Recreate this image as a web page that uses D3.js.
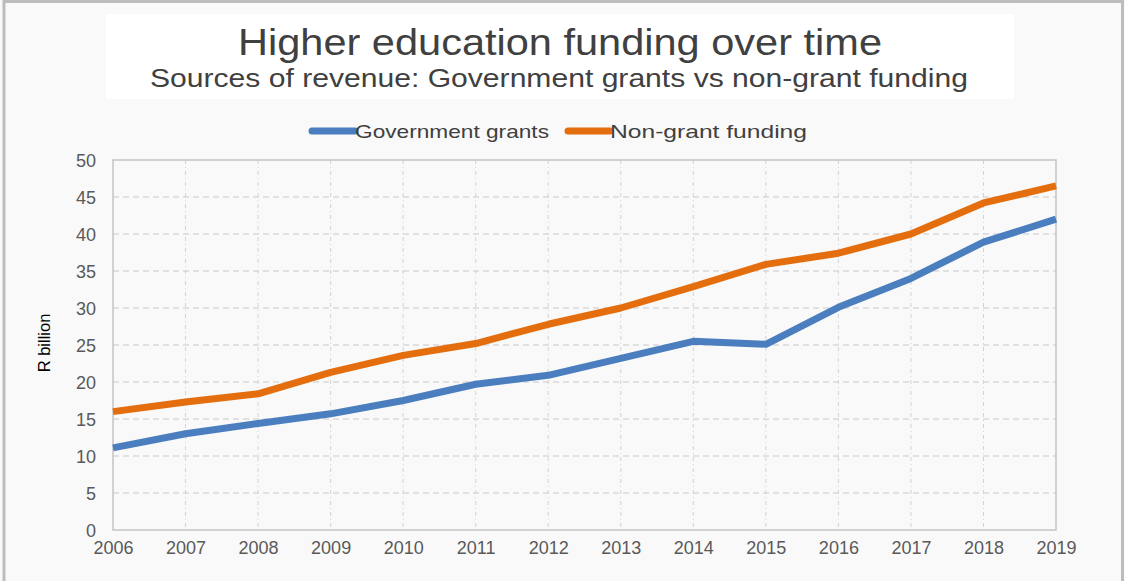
<!DOCTYPE html>
<html>
<head>
<meta charset="utf-8">
<script src="https://cdn.jsdelivr.net/npm/d3@7"></script>
<style>
  html, body { margin: 0; padding: 0; background: #f9f9f9; }
  svg { display: block; font-family: "Liberation Sans", Arial, sans-serif; }
</style>
</head>
<body>
<svg id="chart" width="1125" height="581"></svg>
<script>
// Financial years on the x axis
const years = [2006, 2007, 2008, 2009, 2010, 2011, 2012, 2013, 2014, 2015, 2016, 2017, 2018, 2019];

// Revenue in R billion
const governmentGrants = [11.1, 13.0, 14.4, 15.7, 17.5, 19.7, 20.9, 23.2, 25.5, 25.1, 30.1, 34.0, 38.9, 42.0];
const nonGrantFunding  = [16.0, 17.3, 18.4, 21.3, 23.6, 25.2, 27.8, 30.0, 32.9, 35.9, 37.4, 40.0, 44.2, 46.5];

const yTicks = [0, 5, 10, 15, 20, 25, 30, 35, 40, 45, 50];

const seriesNames = ["Government grants", "Non-grant funding"];
const seriesColors = ["#4a7ebe", "#e46e0e"];

const svg = d3.select("#chart");
const W = 1125, H = 581;
const plot = { left: 113, right: 1056, top: 160, bottom: 530 };

// Outer frame
svg.append("rect").attr("x", 0).attr("y", 0).attr("width", W).attr("height", H).attr("fill", "#f9f9f9");
svg.append("path")
  .attr("d", `M4,${H} V1.5 H1122.5 V${H}`)
  .attr("fill", "none").attr("stroke", "#bdbdbd").attr("stroke-width", 3);

// Title block
svg.append("rect").attr("x", 106).attr("y", 14).attr("width", 908).attr("height", 85).attr("fill", "#ffffff");
svg.append("text")
  .attr("x", 560).attr("y", 55).attr("text-anchor", "middle")
  .attr("font-size", 36).attr("fill", "#404040")
  .attr("textLength", 644).attr("lengthAdjust", "spacingAndGlyphs")
  .text("Higher education funding over time");
svg.append("text")
  .attr("x", 559).attr("y", 87).attr("text-anchor", "middle")
  .attr("font-size", 25).attr("fill", "#404040")
  .attr("textLength", 818).attr("lengthAdjust", "spacingAndGlyphs")
  .text("Sources of revenue: Government grants vs non-grant funding");

// Scales
const x = d3.scalePoint().domain(years).range([plot.left, plot.right]);
const y = d3.scaleLinear().domain([0, 50]).range([plot.bottom, plot.top]);

// Grid
const grid = svg.append("g");
grid.selectAll("line.h")
  .data(yTicks.filter(d => d > 0 && d < 50))
  .join("line")
  .attr("x1", plot.left).attr("x2", plot.right)
  .attr("y1", d => y(d)).attr("y2", d => y(d))
  .attr("stroke", "#c9c9c9").attr("stroke-width", 1.2).attr("stroke-dasharray", "6,4");
grid.selectAll("line.v")
  .data(years.slice(1, -1))
  .join("line")
  .attr("x1", d => x(d)).attr("x2", d => x(d))
  .attr("y1", plot.top).attr("y2", plot.bottom)
  .attr("stroke", "#d3d3d3").attr("stroke-width", 1).attr("stroke-dasharray", "4,3,1,3");

// Plot frame
svg.append("rect")
  .attr("x", plot.left).attr("y", plot.top)
  .attr("width", plot.right - plot.left).attr("height", plot.bottom - plot.top)
  .attr("fill", "none").attr("stroke", "#c3c3c3").attr("stroke-width", 1.5);

// Axes
const yAxis = svg.append("g")
  .attr("transform", `translate(${plot.left - 17},0)`)
  .call(d3.axisLeft(y).tickValues(yTicks).tickSize(0).tickPadding(0));
yAxis.select(".domain").remove();
yAxis.selectAll("text").attr("font-size", 18).attr("fill", "#595959")
  .attr("font-family", "Liberation Sans, Arial, sans-serif").attr("dy", "0.36em");

const xAxis = svg.append("g")
  .attr("transform", `translate(0,${plot.bottom + 11})`)
  .call(d3.axisBottom(x).tickSize(0).tickPadding(0).tickFormat(d3.format("d")));
xAxis.select(".domain").remove();
xAxis.selectAll("text").attr("font-size", 18).attr("fill", "#595959")
  .attr("font-family", "Liberation Sans, Arial, sans-serif").attr("dy", "0.71em");

// Y axis title
svg.append("text")
  .attr("transform", "translate(50,343) rotate(-90)")
  .attr("text-anchor", "middle")
  .attr("font-size", 16.5).attr("fill", "#000")
  .text("R billion");

// Lines
const line = d3.line().x((d, i) => x(years[i])).y(d => y(d));
[governmentGrants, nonGrantFunding].forEach((vals, k) => {
  svg.append("path")
    .datum(vals)
    .attr("d", line)
    .attr("fill", "none")
    .attr("stroke", seriesColors[k])
    .attr("stroke-width", 7)
    .attr("stroke-linejoin", "round");
});

// Legend
const legendItems = [
  { x1: 312, x2: 355, tx: 355, tl: 194 },
  { x1: 568, x2: 610, tx: 610, tl: 197 }
];
legendItems.forEach((it, k) => {
  svg.append("line")
    .attr("x1", it.x1).attr("x2", it.x2).attr("y1", 131).attr("y2", 131)
    .attr("stroke", seriesColors[k]).attr("stroke-width", 7).attr("stroke-linecap", "round");
  svg.append("text")
    .attr("x", it.tx).attr("y", 137.5)
    .attr("font-size", 19).attr("fill", "#404040")
    .attr("textLength", it.tl).attr("lengthAdjust", "spacingAndGlyphs")
    .text(seriesNames[k]);
});
</script>
</body>
</html>
